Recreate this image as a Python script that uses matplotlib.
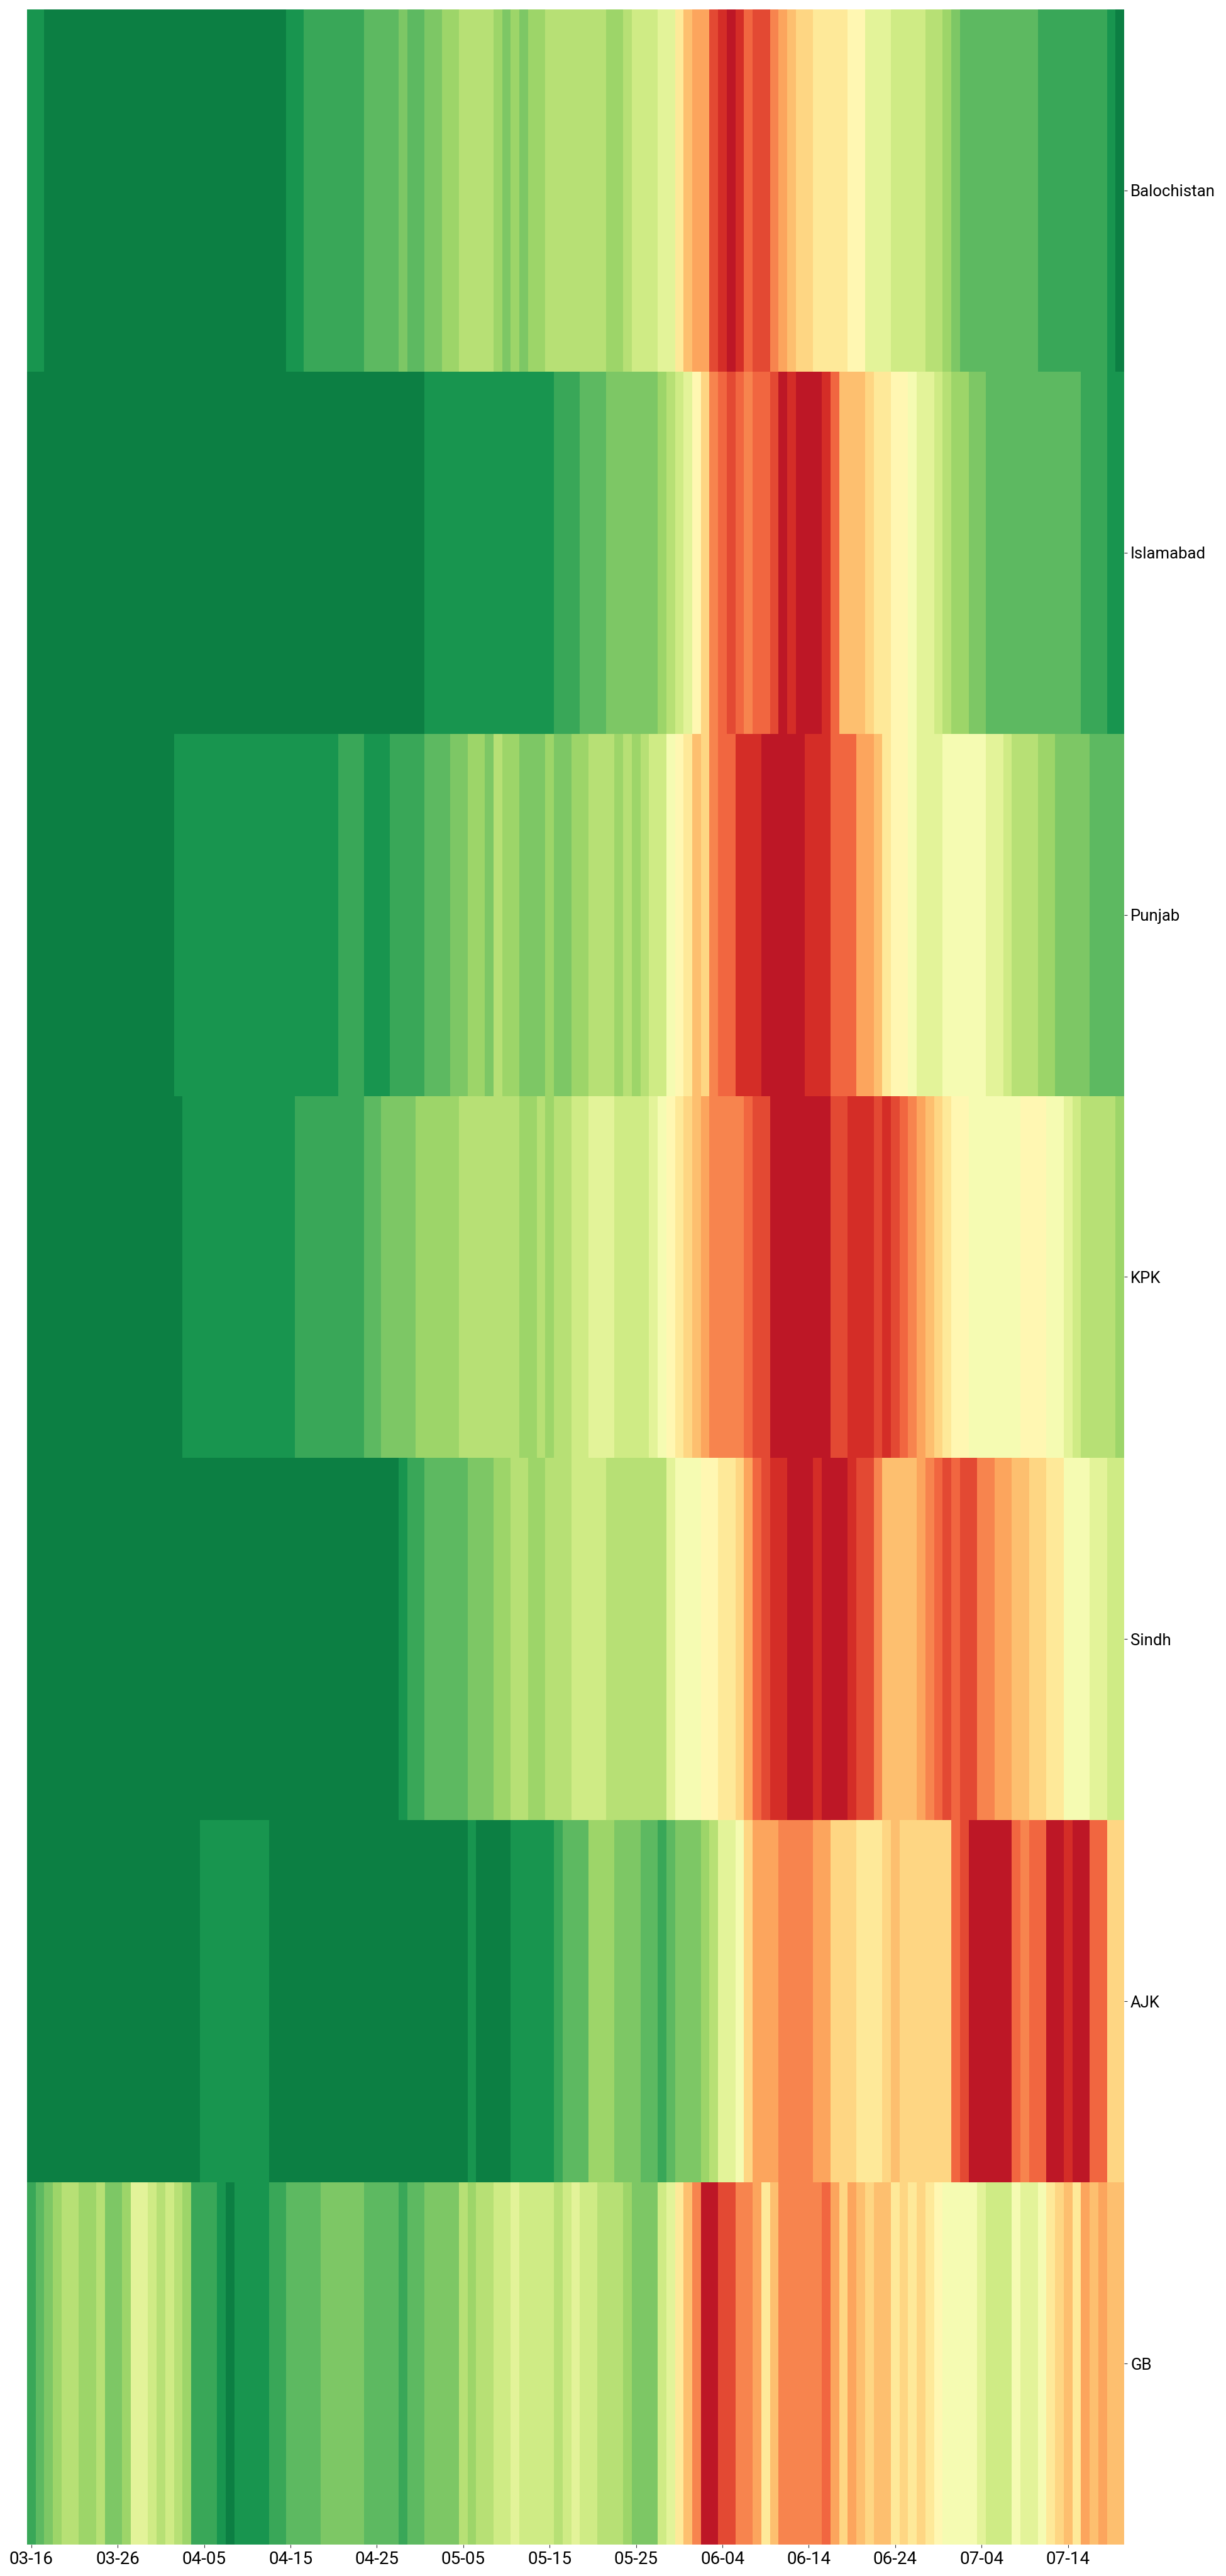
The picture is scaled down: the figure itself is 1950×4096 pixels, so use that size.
import matplotlib
matplotlib.use("Agg")
import matplotlib.pyplot as plt
import numpy as np

regions = ["Balochistan", "Islamabad", "Punjab", "KPK", "Sindh", "AJK", "GB"]
date_labels = ["03-16", "03-26", "04-05", "04-15", "04-25", "05-05", "05-15",
               "05-25", "06-04", "06-14", "06-24", "07-04", "07-14"]

# one value per day (1 = lowest, 20 = highest)
balochistan = [2, 2, 1, 1, 1, 1, 1, 1, 1, 1, 1, 1, 1, 1, 1, 1, 1, 1, 1, 1,
               1, 1, 1, 1, 1, 1, 1, 1, 1, 1, 2, 2, 3, 3, 3, 3, 3, 3, 3, 4,
               4, 4, 4, 5, 4, 4, 5, 5, 6, 6, 7, 7, 7, 7, 6, 5, 6, 5, 6, 6,
               7, 7, 7, 7, 7, 7, 7, 6, 6, 7, 8, 8, 8, 9, 9, 12, 14, 15, 15, 18,
               19, 20, 19, 17, 18, 18, 16, 15, 14, 13, 13, 12, 12, 12, 12, 11, 11, 9, 9, 9,
               8, 8, 8, 8, 7, 7, 6, 5, 4, 4, 4, 4, 4, 4, 4, 4, 4, 3, 3, 3,
               3, 3, 3, 3, 3, 2, 1]
islamabad = [1, 1, 1, 1, 1, 1, 1, 1, 1, 1, 1, 1, 1, 1, 1, 1, 1, 1, 1, 1,
             1, 1, 1, 1, 1, 1, 1, 1, 1, 1, 1, 1, 1, 1, 1, 1, 1, 1, 1, 1,
             1, 1, 1, 1, 1, 1, 2, 2, 2, 2, 2, 2, 2, 2, 2, 2, 2, 2, 2, 2,
             2, 3, 3, 3, 4, 4, 4, 5, 5, 5, 5, 5, 5, 6, 7, 8, 9, 11, 13, 16,
             17, 18, 17, 16, 17, 17, 18, 20, 19, 20, 20, 20, 19, 17, 14, 14, 14, 13, 12, 12,
             11, 11, 10, 9, 9, 8, 7, 6, 6, 5, 5, 4, 4, 4, 4, 4, 4, 4, 4, 4,
             4, 4, 3, 3, 3, 2, 2]
punjab = [1, 1, 1, 1, 1, 1, 1, 1, 1, 1, 1, 1, 1, 1, 1, 1, 1, 2, 2, 2,
          2, 2, 2, 2, 2, 2, 2, 2, 2, 2, 2, 2, 2, 2, 2, 2, 3, 3, 3, 2,
          2, 2, 3, 3, 3, 3, 4, 4, 4, 5, 5, 6, 6, 5, 7, 6, 6, 5, 5, 5,
          6, 5, 5, 6, 6, 7, 7, 7, 6, 7, 6, 7, 8, 8, 10, 11, 12, 14, 13, 16,
          17, 17, 19, 19, 19, 20, 20, 20, 20, 20, 19, 19, 19, 17, 17, 17, 15, 15, 14, 12,
          11, 11, 10, 9, 9, 9, 10, 10, 10, 10, 10, 9, 9, 8, 7, 7, 7, 6, 6, 5,
          5, 5, 5, 4, 4, 4, 4]
kpk = [1, 1, 1, 1, 1, 1, 1, 1, 1, 1, 1, 1, 1, 1, 1, 1, 1, 1, 2, 2,
       2, 2, 2, 2, 2, 2, 2, 2, 2, 2, 2, 3, 3, 3, 3, 3, 3, 3, 3, 4,
       4, 5, 5, 5, 5, 6, 6, 6, 6, 6, 7, 7, 7, 7, 7, 7, 7, 6, 6, 7,
       6, 7, 7, 8, 8, 9, 9, 9, 8, 8, 8, 8, 9, 10, 11, 12, 13, 14, 15, 16,
       16, 16, 16, 17, 18, 18, 20, 20, 20, 20, 20, 20, 20, 18, 18, 19, 19, 19, 18, 19,
       18, 17, 16, 15, 14, 13, 12, 11, 11, 10, 10, 10, 10, 10, 10, 11, 11, 11, 10, 10,
       9, 8, 7, 7, 7, 7, 6]
sindh = [1, 1, 1, 1, 1, 1, 1, 1, 1, 1, 1, 1, 1, 1, 1, 1, 1, 1, 1, 1,
         1, 1, 1, 1, 1, 1, 1, 1, 1, 1, 1, 1, 1, 1, 1, 1, 1, 1, 1, 1,
         1, 1, 1, 2, 3, 3, 4, 4, 4, 4, 4, 5, 5, 5, 6, 6, 7, 7, 6, 6,
         7, 7, 7, 8, 8, 8, 8, 7, 7, 7, 7, 7, 7, 7, 9, 10, 10, 10, 11, 11,
         12, 12, 13, 15, 17, 18, 19, 19, 20, 20, 20, 19, 20, 20, 20, 19, 18, 18, 16, 14,
         14, 14, 14, 15, 16, 17, 18, 17, 18, 18, 16, 16, 15, 15, 14, 14, 13, 13, 12, 12,
         10, 10, 10, 9, 9, 8, 8]
ajk = [1, 1, 1, 1, 1, 1, 1, 1, 1, 1, 1, 1, 1, 1, 1, 1, 1, 1, 1, 1,
       2, 2, 2, 2, 2, 2, 2, 2, 1, 1, 1, 1, 1, 1, 1, 1, 1, 1, 1, 1,
       1, 1, 1, 1, 1, 1, 1, 1, 1, 1, 1, 2, 1, 1, 1, 1, 2, 2, 2, 2,
       2, 3, 4, 4, 4, 6, 6, 6, 5, 5, 5, 4, 4, 3, 4, 5, 5, 5, 6, 7,
       9, 9, 10, 13, 15, 15, 15, 16, 16, 16, 16, 15, 15, 13, 13, 13, 12, 12, 12, 13,
       14, 13, 13, 13, 13, 13, 13, 17, 18, 20, 20, 20, 20, 20, 17, 16, 17, 17, 20, 20,
       19, 20, 20, 17, 17, 13, 13]
gb = [3, 4, 5, 6, 7, 7, 6, 6, 7, 5, 5, 6, 9, 9, 8, 7, 8, 7, 6, 3,
      3, 3, 2, 1, 2, 2, 2, 2, 3, 3, 4, 4, 4, 4, 5, 5, 5, 5, 5, 4,
      4, 4, 4, 3, 4, 4, 5, 5, 5, 5, 7, 6, 7, 7, 8, 8, 9, 8, 8, 8,
      8, 7, 8, 9, 8, 8, 7, 7, 7, 6, 5, 5, 5, 8, 9, 12, 14, 16, 20, 20,
      18, 18, 16, 16, 15, 12, 14, 16, 16, 16, 16, 16, 17, 15, 13, 15, 14, 13, 14, 14,
      12, 13, 12, 13, 12, 11, 10, 10, 10, 10, 9, 8, 8, 8, 10, 9, 9, 10, 12, 13,
      14, 12, 15, 14, 15, 14, 14]

grid = np.array([balochistan, islamabad, punjab, kpk, sindh, ajk, gb])

W, H = 1950, 4096
left, right, top, bottom = 43, 1788, 15, 4046

plt.rcParams["font.family"] = ["Roboto", "DejaVu Sans"]
fig = plt.figure(figsize=(W / 100, H / 100), dpi=100)
ax = fig.add_axes([left / W, 1 - bottom / H, (right - left) / W, (bottom - top) / H])

# heatmap, first row on top
ax.pcolormesh(grid, cmap="RdYlGn_r", vmin=0, vmax=21, edgecolors="none")
ax.set_ylim(len(regions), 0)
ax.set_xlim(0, grid.shape[1])

ax.set_xticks(np.arange(len(date_labels)) * 10 + 0.5)
ax.set_xticklabels(date_labels)
ax.set_yticks(np.arange(len(regions)) + 0.5)
ax.set_yticklabels(regions, rotation=0)
ax.yaxis.tick_right()
ax.tick_params(axis="both", length=3.6, width=0.8, pad=3.6, color="#333333")
ax.tick_params(axis="x", labelsize=20)
ax.tick_params(axis="y", labelsize=18.5)
for s in ax.spines.values():
    s.set_visible(False)

fig.savefig("out.png", dpi=100)
